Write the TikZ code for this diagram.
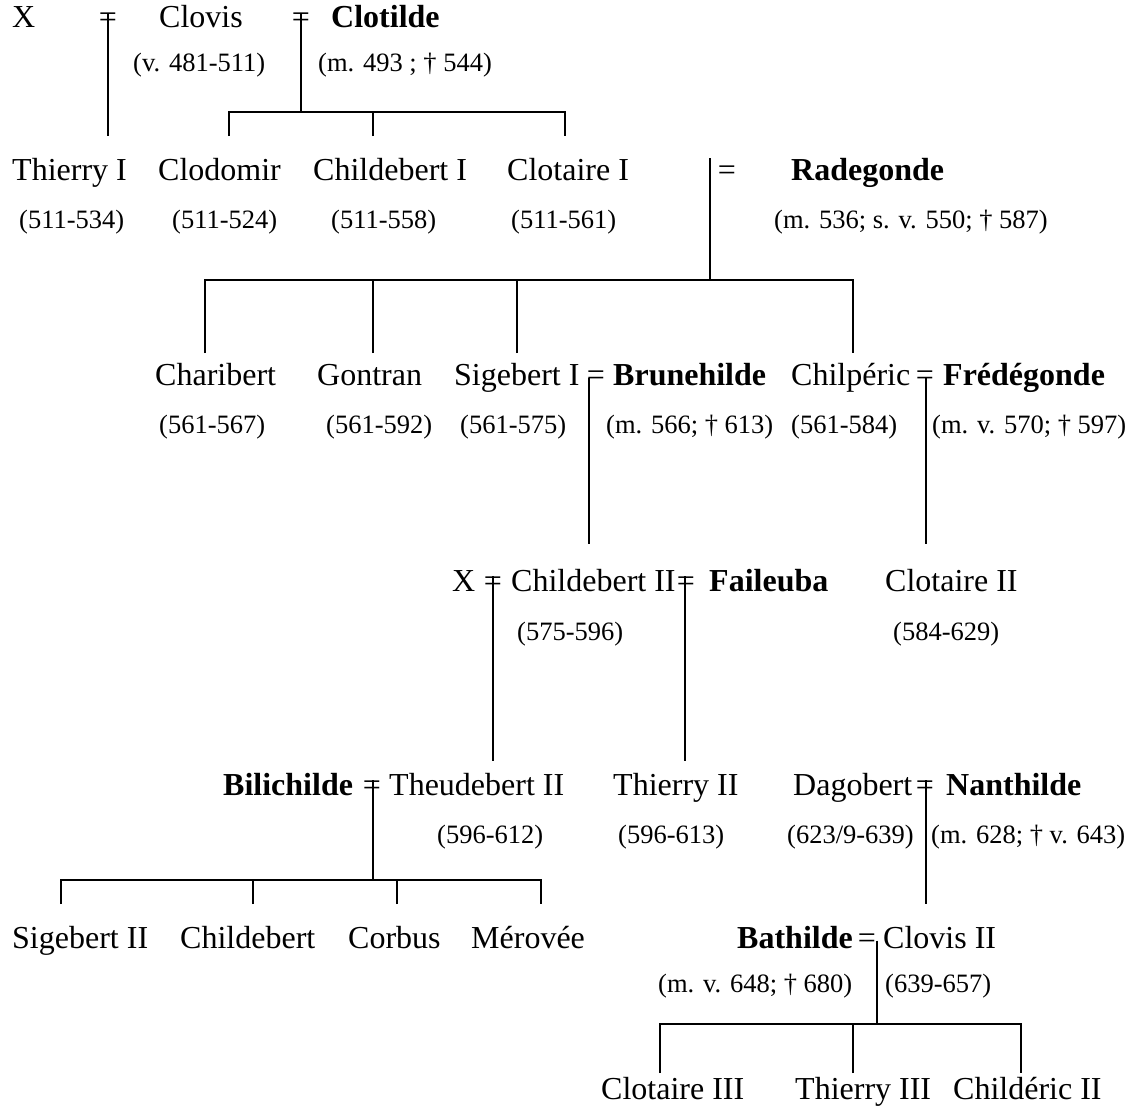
\documentclass[tikz,border=0pt]{standalone}
\usepackage{fontspec}
\setmainfont{Liberation Serif}
\usepackage{tikz}

\begin{document}
\begin{tikzpicture}[x=1pt,y=1pt,yscale=-1,
    person/.style={anchor=base west,inner sep=0pt,font=\fontsize{32}{38}\selectfont},
    queen/.style={person,font=\fontsize{32}{38}\selectfont\bfseries},
    reign/.style={anchor=base west,inner sep=0pt,font=\fontsize{26.5}{30}\selectfont},
    wed/.style={anchor=base,inner sep=0pt,font=\fontsize{32}{38}\selectfont},
    tie/.style={line width=1.6pt}]
\useasboundingbox (0,0) rectangle (1135,1108);

        % generation 1
        \node[person] (xA) at (12,28) {X};
        \node[wed] (eqA) at (108,28) {=};
        \node[person] (clovis) at (159,28) {Clovis};
        \node[wed] (eqB) at (301,28) {=};
        \node[queen] (clotilde) at (331,28) {Clotilde};
        \node[reign] (rClovis) at (133,72) {(v. 481-511)};
        \node[reign] (rClotilde) at (318,72) {(m. 493 ; † 544)};

        % generation 2
        \node[person] (thierryI) at (12,180) {Thierry I};
        \node[person] (clodomir) at (158,180) {Clodomir};
        \node[person] (childebertI) at (313,180) {Childebert I};
        \node[person] (clotaireI) at (507,180) {Clotaire I};
        \node[wed] (eqC) at (727,180) {=};
        \node[queen] (radegonde) at (791,180) {Radegonde};
        \node[reign] (rThierryI) at (19,228) {(511-534)};
        \node[reign] (rClodomir) at (172,228) {(511-524)};
        \node[reign] (rChildebertI) at (331,228) {(511-558)};
        \node[reign] (rClotaireI) at (511,228) {(511-561)};
        \node[reign] (rRadegonde) at (774,228) {(m. 536; s. v. 550; † 587)};

        % generation 3
        \node[person] (charibert) at (155,385) {Charibert};
        \node[person] (gontran) at (317,385) {Gontran};
        \node[person] (sigebertI) at (454,385) {Sigebert I};
        \node[wed] (eqD) at (596,385) {=};
        \node[queen] (brunehilde) at (613,385) {Brunehilde};
        \node[person] (chilperic) at (791,385) {Chilpéric};
        \node[wed] (eqE) at (925,385) {=};
        \node[queen] (fredegonde) at (943,385) {Frédégonde};
        \node[reign] (rCharibert) at (159,433) {(561-567)};
        \node[reign] (rGontran) at (326,433) {(561-592)};
        \node[reign] (rSigebertI) at (460,433) {(561-575)};
        \node[reign] (rBrunehilde) at (606,433) {(m. 566; † 613)};
        \node[reign] (rChilperic) at (791,433) {(561-584)};
        \node[reign] (rFredegonde) at (932,433) {(m. v. 570; † 597)};

        % generation 4
        \node[person] (xF) at (452,591) {X};
        \node[wed] (eqF) at (493,591) {=};
        \node[person] (childebertII) at (511,591) {Childebert II};
        \node[wed] (eqG) at (686,591) {=};
        \node[queen] (faileuba) at (709,591) {Faileuba};
        \node[person] (clotaireII) at (885,591) {Clotaire II};
        \node[reign] (rChildebertII) at (517,640) {(575-596)};
        \node[reign] (rClotaireII) at (893,640) {(584-629)};

        % generation 5
        \node[queen] (bilichilde) at (223,795) {Bilichilde};
        \node[wed] (eqH) at (372,795) {=};
        \node[person] (theudebertII) at (389,795) {Theudebert II};
        \node[person] (thierryII) at (613,795) {Thierry II};
        \node[person] (dagobert) at (793,795) {Dagobert};
        \node[wed] (eqI) at (925,795) {=};
        \node[queen] (nanthilde) at (946,795) {Nanthilde};
        \node[reign] (rTheudebertII) at (437,843) {(596-612)};
        \node[reign] (rThierryII) at (618,843) {(596-613)};
        \node[reign] (rDagobert) at (787,843) {(623/9-639)};
        \node[reign] (rNanthilde) at (931,843) {(m. 628; † v. 643)};

        % generation 6
        \node[person] (sigebertII) at (12,948) {Sigebert II};
        \node[person] (childebert) at (180,948) {Childebert};
        \node[person] (corbus) at (348,948) {Corbus};
        \node[person] (merovee) at (471,948) {Mérovée};
        \node[queen] (bathilde) at (737,948) {Bathilde};
        \node[wed] (eqJ) at (867,948) {=};
        \node[person] (clovisII) at (883,948) {Clovis II};
        \node[reign] (rBathilde) at (658,992) {(m. v. 648; † 680)};
        \node[reign] (rClovisII) at (885,992) {(639-657)};

        % generation 7
        \node[person] (clotaireIII) at (601,1099) {Clotaire III};
        \node[person] (thierryIII) at (795,1099) {Thierry III};
        \node[person] (childericII) at (953,1099) {Childéric II};

        % line ends
        \coordinate (dThierryI) at (108,136);
        \coordinate (jB) at (301,112);
        \coordinate (dClodomir) at (229,136);
        \coordinate (dChildebertI) at (373,136);
        \coordinate (dClotaireI) at (565,136);
        \coordinate (kC) at (710,158);
        \coordinate (jC) at (710,280);
        \coordinate (dCharibert) at (205,353);
        \coordinate (dGontran) at (373,353);
        \coordinate (dSigebertI) at (517,353);
        \coordinate (dChilperic) at (853,353);
        \coordinate (dChildebertII) at (589,544);
        \coordinate (dClotaireII) at (926,544);
        \coordinate (dTheudebertII) at (493,761);
        \coordinate (dThierryII) at (685,761);
        \coordinate (jH) at (373,880);
        \coordinate (dSigebertII) at (61,904);
        \coordinate (dChildebert) at (253,904);
        \coordinate (dCorbus) at (397,904);
        \coordinate (dMerovee) at (541,904);
        \coordinate (dClovisII) at (926,904);
        \coordinate (jJ) at (877,1024);
        \coordinate (dClotaireIII) at (660,1073);
        \coordinate (dThierryIII) at (853,1073);
        \coordinate (dChildericII) at (1021,1073);

        % descent lines
        \draw[tie] (eqA.north) -- (dThierryI);
        \draw[tie] (eqB.north) -- (jB);
        \draw[tie] (dClodomir) |- (jB) -| (dClotaireI);
        \draw[tie] (dChildebertI) -- (dChildebertI |- jB);
        \draw[tie] (kC) -- (jC);
        \draw[tie] (dCharibert) |- (jC) -| (dChilperic);
        \draw[tie] (dGontran) -- (dGontran |- jC);
        \draw[tie] (dSigebertI) -- (dSigebertI |- jC);
        \draw[tie] (eqD.center -| dChildebertII) -- (dChildebertII);
        \draw[tie] (eqE.center -| dClotaireII) -- (dClotaireII);
        \draw[tie] (eqF.north) -- (dTheudebertII);
        \draw[tie] (eqG.north -| dThierryII) -- (dThierryII);
        \draw[tie] (eqH.north -| jH) -- (jH);
        \draw[tie] (dSigebertII) |- (jH) -| (dMerovee);
        \draw[tie] (dChildebert) -- (dChildebert |- jH);
        \draw[tie] (dCorbus) -- (dCorbus |- jH);
        \draw[tie] (eqI.north -| dClovisII) -- (dClovisII);
        \draw[tie] (eqJ.center -| jJ) -- (jJ);
        \draw[tie] (dClotaireIII) |- (jJ) -| (dChildericII);
        \draw[tie] (dThierryIII) -- (dThierryIII |- jJ);
    \end{tikzpicture}
\end{document}
